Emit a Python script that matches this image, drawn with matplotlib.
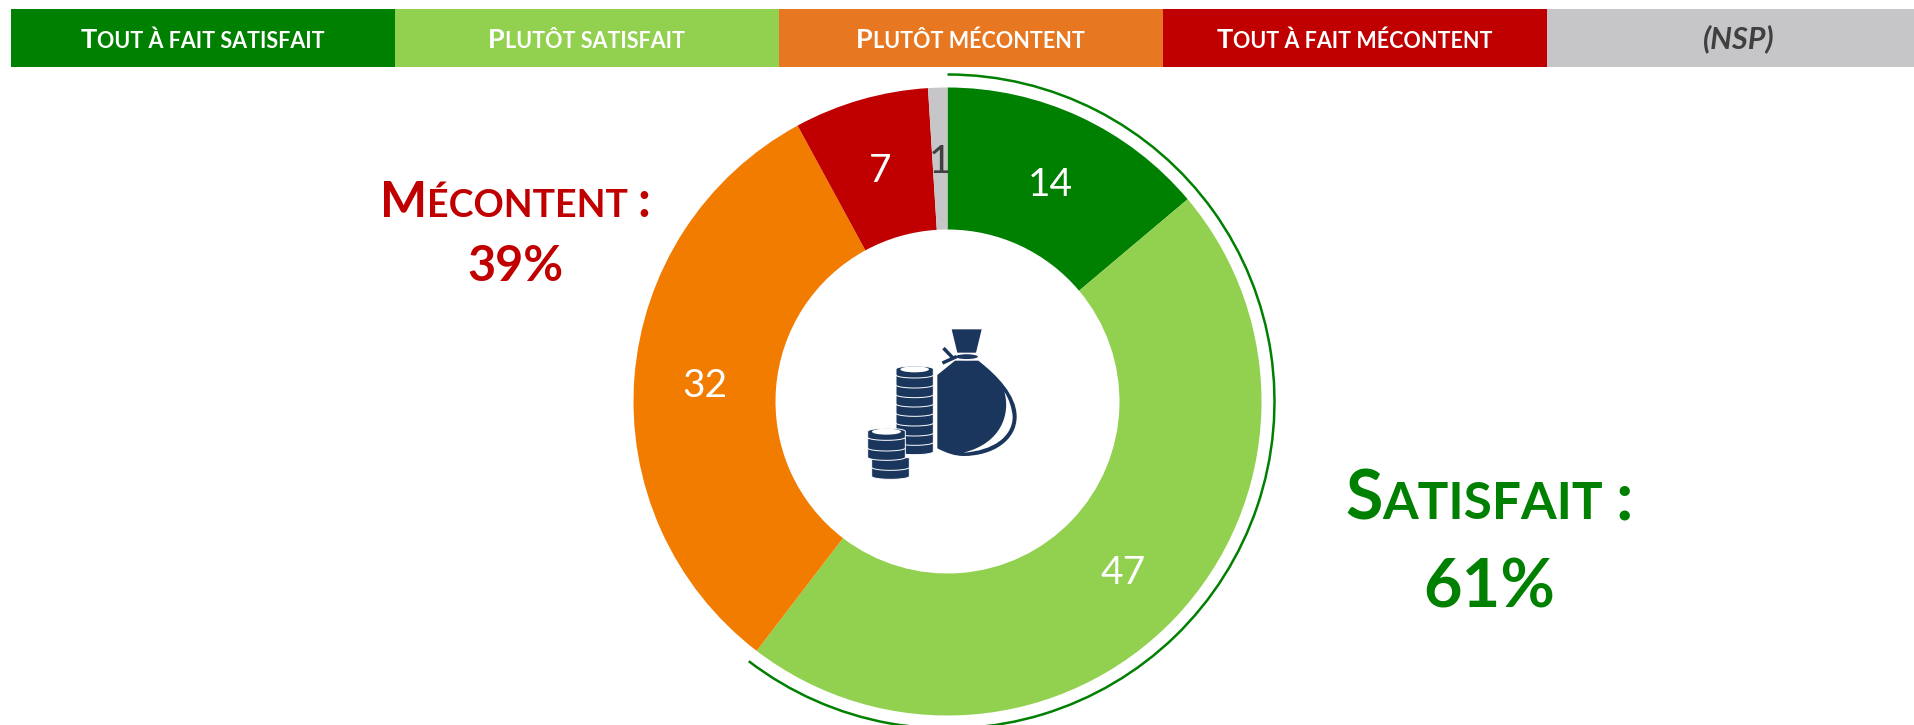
import numpy as np
import matplotlib
matplotlib.use('Agg')
import matplotlib.pyplot as plt
from matplotlib.patches import Arc, Ellipse, PathPatch, Polygon, Rectangle
from matplotlib.path import Path

plt.rcParams['font.family'] = ['Lato', 'DejaVu Sans']

# data
values = [14, 47, 32, 7, 1]
slice_colors = ['#008000', '#92D050', '#F27C00', '#C00000', '#C6C6C8']
value_colors = ['white', 'white', 'white', 'white', '#404040']
headers = ['Tout à fait satisfait', 'Plutôt satisfait', 'Plutôt mécontent', 'Tout à fait mécontent']
header_colors = ['#008000', '#92D050', '#E87722', '#C00000']
nsp_label = '(NSP)'
nsp_color = '#C6C6C8'
satisfied_label = 'Satisfait :'
satisfied_pct = '61%'
unhappy_label = 'Mécontent :'
unhappy_pct = '39%'
navy = '#1B365D'

W, H = 1914, 725
fig = plt.figure(figsize=(W / 100, H / 100), dpi=100)

# donut
cx, cy, r_out, r_in, r_arc = 947.5, 401.5, 314, 172, 327
lim = 1.1
half = r_out * lim
ax = fig.add_axes([(cx - half) / W, 1 - (cy + half) / H, 2 * half / W, 2 * half / H])
wedges, _, autotexts = ax.pie(values, colors=slice_colors, startangle=90, counterclock=False,
	radius=1, autopct='%d', pctdistance=(1 + r_in / r_out) / 2,
	wedgeprops={'width': 1 - r_in / r_out, 'linewidth': 0})
for t, v, c in zip(autotexts, values, value_colors):
	t.set_text(str(v))
	t.set_color(c)
	t.set_fontsize(28)
	t.set_verticalalignment('center_baseline')
ax.set_xlim(-lim, lim)
ax.set_ylim(-lim, lim)
ax.set_aspect('equal')
ax.axis('off')

# arc round the satisfied slices
sat_share = (values[0] + values[1]) / sum(values) * 360
arc_d = 2 * r_arc / r_out
ax.add_patch(Arc((0, 0), arc_d, arc_d, theta1=90 - sat_share, theta2=90, color='#008000', lw=1.8, clip_on=False))

# overlay in pixels
ov = fig.add_axes([0, 0, 1, 1])
ov.set_xlim(0, W)
ov.set_ylim(H, 0)
ov.axis('off')
ov.patch.set_alpha(0)
renderer = fig.canvas.get_renderer()


def run_width(s, size):
	# bars either side so that spaces are counted
	fp = matplotlib.font_manager.FontProperties(family='Lato', weight='bold', size=size)
	a = renderer.get_text_width_height_descent('|' + s + '|', fp, False)[0]
	b = renderer.get_text_width_height_descent('||', fp, False)[0]
	return a - b


def small_caps(x, y, s, big, small, color):
	runs = []
	for ch in s:
		up = ch.isupper() or ch == ':'
		size = big if up else small
		if runs and runs[-1][1] == size:
			runs[-1][0] += ch.upper()
		else:
			runs.append([ch.upper(), size])
	widths = [run_width(r[0], r[1]) for r in runs]
	pos = x - sum(widths) / 2
	for r, w in zip(runs, widths):
		ov.text(pos, y, r[0], fontsize=r[1], fontweight='bold', color=color, ha='left', va='baseline')
		pos += w


# header band
x0, cell, y0, y1 = 10.5, 384, 9, 67
for i, (label, col) in enumerate(zip(headers, header_colors)):
	ov.add_patch(Rectangle((x0 + i * cell, y0), cell, y1 - y0, color=col, lw=0))
	small_caps(x0 + (i + .5) * cell, 48, label, 19.5, 15.5, 'white')
ov.add_patch(Rectangle((x0 + 4 * cell, y0), cell, y1 - y0, color=nsp_color, lw=0))
ov.text(x0 + 4.5 * cell, 48, nsp_label, fontsize=22, fontweight='bold', fontstyle='italic',
	color='#404040', ha='center', va='baseline')

# totals
small_caps(515, 217, unhappy_label, 36, 27, '#C00000')
ov.text(515, 281, unhappy_pct, fontsize=35, fontweight='bold', color='#C00000', ha='center', va='baseline')
small_caps(1489, 519, satisfied_label, 49, 37, '#008000')
ov.text(1489, 608, satisfied_pct, fontsize=48, fontweight='bold', color='#008000', ha='center', va='baseline')


# icon, drawn in the 3x crop coordinates of the picture
def ic(x, y):
	return (820 + x / 3, 300 + y / 3)


def coin(x_left, x_right, y, top=False):
	xc = (x_left + x_right) / 2
	w = x_right - x_left
	t = np.linspace(0, np.pi, 24)
	bottom = [ic(xc + w / 2 * np.cos(a), y + 7 + 9 * np.sin(a)) for a in t]
	if top:
		upper = [ic(xc - w / 2 * np.cos(a), y - 11 - 9 * np.sin(a)) for a in t]
	else:
		upper = [ic(x_left, y - 22), ic(x_right, y - 22)]
	ov.add_patch(Polygon(bottom + upper, closed=True, fc=navy, ec='white', lw=0.7, zorder=3))
	if top:
		ov.add_patch(Ellipse(ic(xc, y - 10), (w - 26) / 3, 18 / 3, fc='white', lw=0, zorder=3))


for y in [448, 420, 392, 362, 333, 305, 277, 248, 218]:
	coin(228, 340, y, top=(y == 218))
for y in [522, 495]:
	coin(155, 268, y)
for y in [465, 437, 405]:
	coin(143, 256, y, top=(y == 405))

# bag
ov.add_patch(Rectangle(ic(341, 190), 12 / 3, 280 / 3, fc='white', lw=0, zorder=3.5))
bag_verts = [ic(352, 225), ic(405, 182), ic(475, 182),
	ic(530, 225), ic(590, 285), ic(590, 350),
	ic(590, 420), ic(520, 468), ic(430, 468),
	ic(395, 468), ic(352, 445), ic(352, 225)]
bag_codes = [Path.MOVETO, Path.LINETO, Path.LINETO,
	Path.CURVE4, Path.CURVE4, Path.CURVE4,
	Path.CURVE4, Path.CURVE4, Path.CURVE4,
	Path.CURVE3, Path.CURVE3, Path.CLOSEPOLY]
ov.add_patch(PathPatch(Path(bag_verts, bag_codes), fc=navy, lw=0, zorder=4))
shine = Path([ic(553, 275), ic(572, 340), ic(545, 430), ic(430, 458),
	ic(520, 452), ic(578, 410), ic(578, 350), ic(575, 310), ic(553, 275)],
	[Path.MOVETO, Path.CURVE4, Path.CURVE4, Path.CURVE4,
	Path.CURVE4, Path.CURVE4, Path.CURVE4, Path.CURVE3, Path.CURVE3])
ov.add_patch(PathPatch(shine, fc='white', lw=0, zorder=5))
ov.add_patch(Polygon([ic(395, 88), ic(485, 88), ic(468, 158), ic(412, 158)], closed=True, fc=navy, lw=0, zorder=4))
ov.add_patch(Ellipse(ic(440, 170), 72 / 3, 18 / 3, fc=navy, ec='white', lw=0.8, zorder=4))
ov.plot(*zip(ic(374, 148), ic(395, 170)), color=navy, lw=2.5, zorder=4)
ov.plot(*zip(ic(372, 187), ic(405, 172)), color=navy, lw=2.5, zorder=4)
ov.set_xlim(0, W)
ov.set_ylim(H, 0)

fig.savefig('out.png', dpi=100)
